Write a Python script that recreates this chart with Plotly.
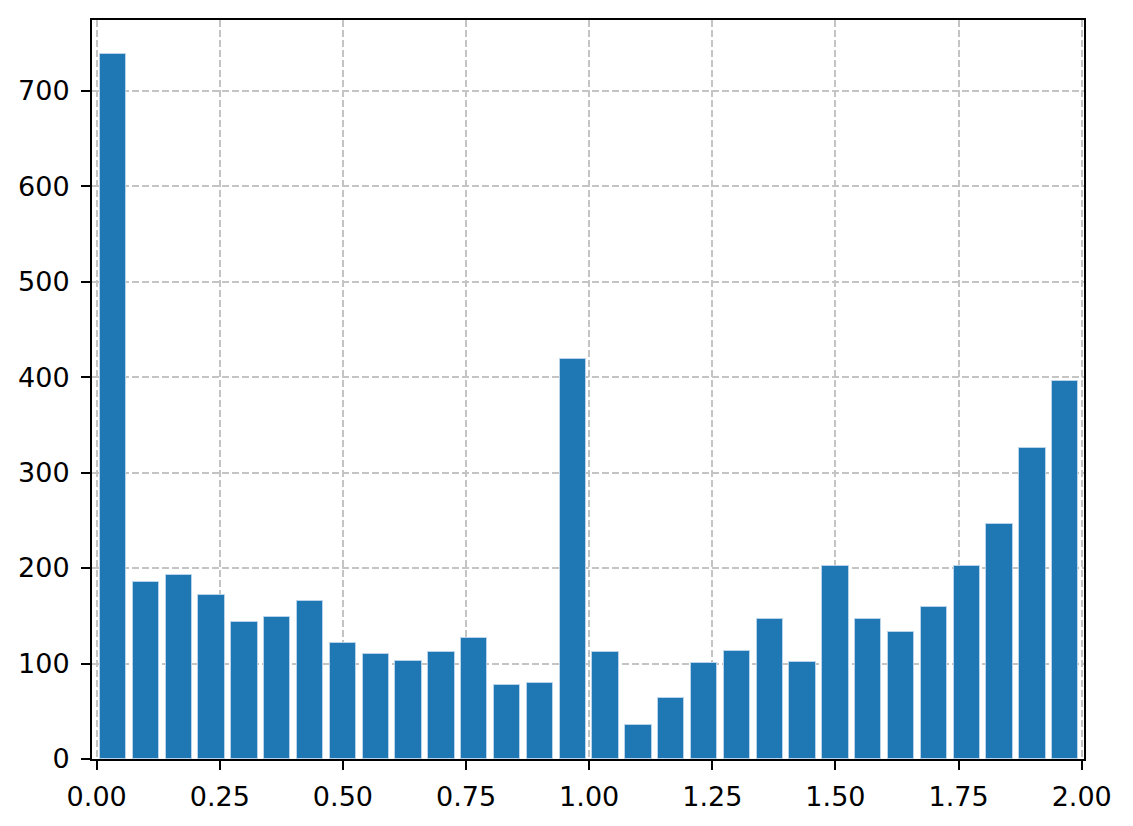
"""Histogram recreation — 30 bins between 0 and 2, matplotlib-like styling."""

import numpy as np
import plotly.graph_objects as go

# Data
BIN_START = 0.0
BIN_END = 2.0
COUNTS = [
    738, 185, 193, 172, 144, 149, 165, 121, 110, 103,
    112, 127, 78, 80, 419, 112, 36, 64, 101, 113,
    147, 102, 202, 147, 133, 159, 202, 246, 326, 396,
]
X_TICKS = [0.0, 0.25, 0.5, 0.75, 1.0, 1.25, 1.5, 1.75, 2.0]
X_TICK_LABELS = ["0.00", "0.25", "0.50", "0.75", "1.00", "1.25", "1.50", "1.75", "2.00"]
Y_TICKS = [0, 100, 200, 300, 400, 500, 600, 700]

# Palette
BAR = "#1f77b4"
GRID = "#c4c4c4"
FONT = "DejaVu Sans"

edges = np.linspace(BIN_START, BIN_END, len(COUNTS) + 1)
centers = (edges[:-1] + edges[1:]) / 2
bin_w = edges[1] - edges[0]

fig = go.Figure(go.Bar(
    x=centers, y=COUNTS,
    width=bin_w * 0.8,
    marker=dict(color=BAR, line=dict(color="rgba(190,215,235,0.9)", width=1)),
    hovertemplate="%{x:.3f}<br>%{y}<extra></extra>",
))

axis_common = dict(
    showline=True, linecolor="black", linewidth=2, mirror=True,
    ticks="outside", ticklen=9, tickwidth=2, tickcolor="black",
    showgrid=True, gridcolor=GRID, gridwidth=2, griddash="7px,3px",
    zeroline=False, automargin=False,
    tickfont=dict(family=FONT, size=27, color="black"),
)

# page body has an 8px margin, so the figure is sized to fit the 1133x826 window
fig.update_layout(
    width=1125, height=818,
    margin=dict(l=84, r=49, t=12, b=67),
    plot_bgcolor="white", paper_bgcolor="white",
    showlegend=False,
    bargap=0,
)
fig.update_xaxes(
    range=[-0.0095, 2.0047],
    tickvals=X_TICKS, ticktext=X_TICK_LABELS,
    ticklabelstandoff=4,
    **axis_common,
)
fig.update_yaxes(
    range=[0, 774],
    tickvals=Y_TICKS,
    ticklabelstandoff=6,
    **axis_common,
)

fig.write_html("out.html")
